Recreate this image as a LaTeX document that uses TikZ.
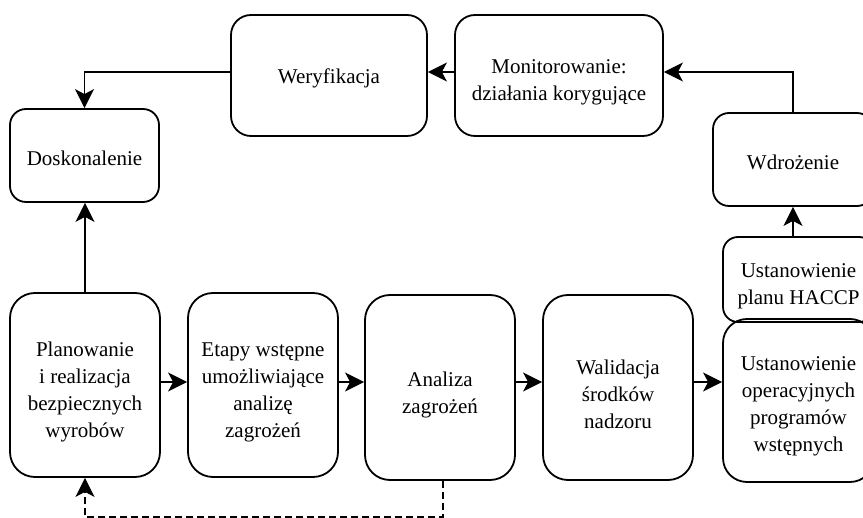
\documentclass[tikz,border=0pt]{standalone}
\usepackage{fontspec}
\setmainfont{Liberation Serif}
\usetikzlibrary{arrows.meta}
\begin{document}
\begin{tikzpicture}[x=1pt, y=-1pt,
  box/.style={draw=black, line width=1.8pt, rounded corners=#1, inner sep=0pt},
  box/.default=20pt,
  lbl/.style={align=center, inner sep=0pt, font=\fontsize{21}{27}\selectfont},
  arr/.style={line width=1.6pt, -{Stealth[length=19pt, width=19pt, inset=5pt]}},
  dasharr/.style={arr, dash pattern=on 7pt off 4pt},
]
% page frame (boxes on the right run past the edge)
\path[use as bounding box] (0,0) rectangle (863,518);
\clip (0,0) rectangle (863,518);

% levels of the horizontal connectors
\coordinate (toprow) at (0,72);
\coordinate (midrow) at (0,382);
\coordinate (dashrow) at (0,517.2);

% upper boxes
\node[box=20pt, minimum width=196pt, minimum height=121pt] (wer) at (329,75.5) {};
\node[lbl, yshift=-3pt] (wer-t) at (wer.center) {Weryfikacja};

\node[box=20pt, minimum width=208pt, minimum height=121pt] (mon) at (559,75.5) {};
\node[lbl, yshift=-7pt] (mon-t) at (mon.center) {Monitorowanie:\\działania korygujące};

\node[box=16pt, minimum width=149pt, minimum height=93pt] (dosk) at (84.5,155.5) {};
\node[lbl, yshift=-3pt] (dosk-t) at (dosk.center) {Doskonalenie};

\node[box=16pt, minimum width=160pt, minimum height=93pt] (wdr) at (793,159.5) {};
\node[lbl, yshift=-3pt] (wdr-t) at (wdr.center) {Wdrożenie};

% right column
\node[box=15pt, minimum width=151pt, minimum height=85pt] (hcp) at (798.5,279.5) {};
\node[lbl, yshift=-7pt] (hcp-t) at (hcp.center) {Ustanowienie\\planu HACCP};

\node[box=24pt, minimum width=151pt, minimum height=163pt] (oper) at (798.5,400.5) {};
\node[lbl, yshift=-6pt] (oper-t) at (oper.center) {Ustanowienie\\operacyjnych\\programów\\wstępnych};

% lower row
\node[box=25pt, minimum width=150pt, minimum height=184pt] (plan) at (85,385) {};
\node[lbl, yshift=-7pt] (plan-t) at (plan.center) {Planowanie\\i realizacja\\bezpiecznych\\wyrobów};

\node[box=25pt, minimum width=150pt, minimum height=184pt] (etap) at (263,385) {};
\node[lbl, yshift=-7pt] (etap-t) at (etap.center) {Etapy wstępne\\umożliwiające\\analizę\\zagrożeń};

\node[box=25pt, minimum width=150pt, minimum height=185pt] (anal) at (440,387.5) {};
\node[lbl, yshift=-7pt] (anal-t) at (anal.center) {Analiza\\zagrożeń};

\node[box=25pt, minimum width=150pt, minimum height=185pt] (wal) at (618,387.5) {};
\node[lbl, yshift=-7pt] (wal-t) at (wal.center) {Walidacja\\środków\\nadzoru};

% flow along the lower row
\draw[arr] (plan.east |- midrow) -- (etap.west |- midrow);
\draw[arr] (etap.east |- midrow) -- (anal.west |- midrow);
\draw[arr] (anal.east |- midrow) -- (wal.west |- midrow);
\draw[arr] (wal.east |- midrow) -- (oper.west |- midrow);

% up the right side and back along the top
\draw[arr] (wdr.south |- hcp.north) -- (wdr.south);
\draw[arr] (wdr.north) |- (mon.east |- toprow);
\draw[arr] (mon.west |- toprow) -- (wer.east |- toprow);
\draw[arr] (wer.west |- toprow) -| (dosk.north);
\draw[arr] (plan.north) -- (plan.north |- dosk.south);

% feedback from hazard analysis
\draw[dasharr] ([xshift=3pt]anal.south) -- ([xshift=3pt]anal.south |- dashrow) -| (plan.south);
\end{tikzpicture}
\end{document}
